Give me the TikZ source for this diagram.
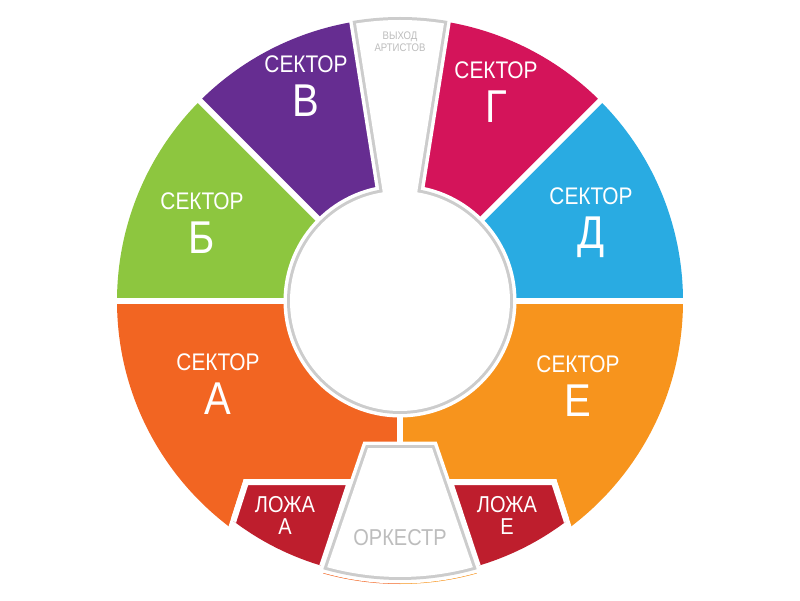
\documentclass[tikz,border=0pt]{standalone}
\usepackage{fontspec}
\newfontfamily\planfont{Liberation Sans}[FakeStretch=0.87]
\definecolor{sektora}{HTML}{F26522}
\definecolor{sektorb}{HTML}{8DC63F}
\definecolor{sektorv}{HTML}{662D91}
\definecolor{sektorg}{HTML}{D4145A}
\definecolor{sektord}{HTML}{29ABE2}
\definecolor{sektore}{HTML}{F7941D}
\definecolor{lozha}{HTML}{BE1E2D}
\definecolor{ringgray}{HTML}{CCCCCC}
\definecolor{textgray}{HTML}{BDBDBD}
\usepackage{tikz}
\usetikzlibrary{
    calc,
    positioning,
}
\tikzset{
    whitegap/.style={draw=white,line width=6pt},
    whiteout/.style={fill=white,draw=white,line width=6pt},
    lozhabox/.style={fill=lozha,draw=white,line width=6pt},
    openarea/.style={fill=white,preaction={draw=white,line width=13pt},preaction={draw=ringgray,line width=6pt}},
    sektorname/.style={font=\planfont\fontsize{24}{24}\selectfont,text=white,inner sep=0pt,text depth=0pt},
    sektorletter/.style={font=\planfont\fontsize{46}{46}\selectfont,text=white,inner sep=0pt,text depth=0pt},
    lozhaname/.style={font=\planfont\fontsize{23}{23}\selectfont,text=white,inner sep=0pt,text depth=0pt},
    grayname/.style={text=textgray,inner sep=0pt,align=center},
}

\begin{document}
\begin{tikzpicture}[x=1pt,y=1pt]
    \useasboundingbox (0,0) rectangle (800,600);
    \coordinate (c) at (400,299);
    % sectors of the ring
    \foreach \a/\b/\col in {0/45/sektord,45/90/sektorg,90/135/sektorv,135/180/sektorb,180/270/sektora,270/360/sektore}
        \fill[\col] (c) -- ++(\a:283) arc[start angle=\a,end angle=\b,radius=283] -- cycle;
    \foreach \a in {0,45,135,180}
        \draw[whitegap] (c) -- ++(\a:290);
    \draw[whitegap] (c) -- ++(270:150);
    % boxes
    \path[whiteout] (246,118) -- (350,118) -- (311,0) -- (208,0) -- cycle;
    \path[whiteout] (554,118) -- (450,118) -- (489,0) -- (592,0) -- cycle;
    \begin{scope}
        \clip (c) circle[radius=276];
        \path[lozhabox] (246,118) -- (350,118) -- (311,0) -- (208,0) -- cycle;
        \path[lozhabox] (554,118) -- (450,118) -- (489,0) -- (592,0) -- cycle;
    \end{scope}
    % orchestra
    \coordinate (orchbl) at ($(c)+(254.7:276)$);
    \path[openarea] (368,152) -- (orchbl) arc[start angle=254.7,end angle=285.3,radius=276] -- (432,152) -- cycle;
    % arena and artists' exit
    \coordinate (exitr) at ($(c)+(81:281)$);
    \coordinate (exitlin) at ($(c)+(99:60)$);
    \coordinate (exitrin) at ($(c)+(81:60)$);
    \path[openarea] (c) circle[radius=110]
        (exitr) arc[start angle=81,end angle=99,radius=281] -- (exitlin) -- (exitrin) -- cycle;
    % labels
    \node[sektorname] (sectorv) at (306,536) {СЕКТОР};
    \node[sektorletter,below=12pt of sectorv] (letterv) {В};
    \node[sektorname] (sectorg) at (496,530) {СЕКТОР};
    \node[sektorletter,below=12pt of sectorg] (letterg) {Г};
    \node[sektorname] (sectorb) at (202,399) {СЕКТОР};
    \node[sektorletter,below=12pt of sectorb] (letterb) {Б};
    \node[sektorname] (sectord) at (591,404) {СЕКТОР};
    \node[sektorletter,below=12pt of sectord] (letterd) {Д};
    \node[sektorname] (sectora) at (218,238) {СЕКТОР};
    \node[sektorletter,below=12pt of sectora] (lettera) {А};
    \node[sektorname] (sectore) at (578,236) {СЕКТОР};
    \node[sektorletter,below=12pt of sectore] (lettere) {Е};
    \node[lozhaname] (lozhaa) at (285,96) {ЛОЖА};
    \node[lozhaname,below=6pt of lozhaa] (lozhaaletter) {А};
    \node[lozhaname] (lozhae) at (507,96) {ЛОЖА};
    \node[lozhaname,below=6pt of lozhae] (lozhaeletter) {Е};
    \node[grayname,font=\planfont\fontsize{23}{23}\selectfont] (orkestr) at (400,62) {ОРКЕСТР};
    \node[grayname,font=\planfont\fontsize{11}{12}\selectfont] (vykhod) at (400,558) {ВЫХОД\\АРТИСТОВ};
\end{tikzpicture}
\end{document}
